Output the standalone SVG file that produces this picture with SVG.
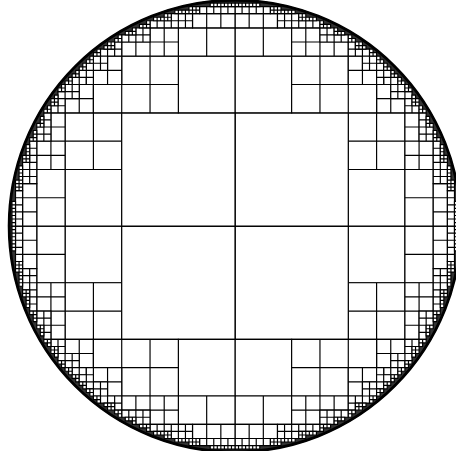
<svg xmlns="http://www.w3.org/2000/svg" width="456" height="451" viewBox="0 0 456 451">
<defs>
<pattern id="g128" patternUnits="userSpaceOnUse" width="0.5" height="0.5"><path d="M0 0H0.5M0 0.5H0.5M0 0V0.5M0.5 0V0.5" fill="none" stroke="#000" stroke-width="0.3"/></pattern>
<g id="oct" fill="#fff" stroke="#000" stroke-width="0.33">
<path id="l2" d="M0 0h32v32h-32z"/>
<path id="l4" d="M32 0h16v16h-16z"/>
<path id="l8" d="M48 0h8v8h-8zM48 8h8v8h-8zM32 16h8v8h-8zM40 16h8v8h-8zM32 24h8v8h-8zM40 24h8v8h-8zM32 32h8v8h-8z"/>
<path id="l16" d="M56 0h4v4h-4zM56 4h4v4h-4zM56 8h4v4h-4zM48 16h4v4h-4zM52 16h4v4h-4zM48 20h4v4h-4zM52 20h4v4h-4zM48 24h4v4h-4zM48 28h4v4h-4zM40 32h4v4h-4zM44 32h4v4h-4zM40 36h4v4h-4z"/>
<path id="l32" d="M60 0h2v2h-2zM60 2h2v2h-2zM60 4h2v2h-2zM60 6h2v2h-2zM60 8h2v2h-2zM56 12h2v2h-2zM58 12h2v2h-2zM56 14h2v2h-2zM58 14h2v2h-2zM56 16h2v2h-2zM58 16h2v2h-2zM56 18h2v2h-2zM56 20h2v2h-2zM56 22h2v2h-2zM52 24h2v2h-2zM54 24h2v2h-2zM52 26h2v2h-2zM54 26h2v2h-2zM52 28h2v2h-2zM52 30h2v2h-2zM48 32h2v2h-2zM50 32h2v2h-2zM48 34h2v2h-2zM44 36h2v2h-2zM46 36h2v2h-2zM48 36h2v2h-2zM44 38h2v2h-2zM46 38h2v2h-2zM40 40h2v2h-2zM42 40h2v2h-2zM44 40h2v2h-2zM42 42h2v2h-2z"/>
<path id="l64" d="M62 0h1v1h-1zM62 1h1v1h-1zM62 2h1v1h-1zM62 3h1v1h-1zM62 4h1v1h-1zM62 5h1v1h-1zM62 6h1v1h-1zM60 10h1v1h-1zM61 10h1v1h-1zM60 11h1v1h-1zM61 11h1v1h-1zM60 12h1v1h-1zM61 12h1v1h-1zM60 13h1v1h-1zM60 14h1v1h-1zM60 15h1v1h-1zM60 16h1v1h-1zM58 18h1v1h-1zM59 18h1v1h-1zM58 19h1v1h-1zM59 19h1v1h-1zM58 20h1v1h-1zM58 21h1v1h-1zM58 22h1v1h-1zM56 24h1v1h-1zM57 24h1v1h-1zM56 25h1v1h-1zM56 26h1v1h-1zM54 28h1v1h-1zM55 28h1v1h-1zM54 29h1v1h-1zM54 30h1v1h-1zM52 32h1v1h-1zM53 32h1v1h-1zM52 33h1v1h-1zM50 34h1v1h-1zM51 34h1v1h-1zM50 35h1v1h-1zM51 35h1v1h-1zM50 36h1v1h-1zM48 38h1v1h-1zM49 38h1v1h-1zM48 39h1v1h-1zM46 40h1v1h-1zM47 40h1v1h-1zM46 41h1v1h-1zM44 42h1v1h-1zM45 42h1v1h-1zM44 43h1v1h-1z"/>
</g>
</defs>
<rect width="456" height="451" fill="#fff"/>
<g transform="translate(235,226.1) scale(3.54)">
<path d="M-64 0a64 64 0 1 0 128 0a64 64 0 1 0-128 0ZM-60 0a60 60 0 1 0 120 0a60 60 0 1 0-120 0Z" fill="url(#g128)" fill-rule="evenodd"/>
<circle r="63.7" fill="none" stroke="#000" stroke-width="0.6"/>
<g id="cells">
<use href="#oct"/>
<use href="#oct" transform="matrix(0,1,1,0,0,0)"/>
<use href="#oct" transform="scale(-1,1)"/>
<use href="#oct" transform="scale(-1,1) matrix(0,1,1,0,0,0)"/>
<use href="#oct" transform="scale(1,-1)"/>
<use href="#oct" transform="scale(1,-1) matrix(0,1,1,0,0,0)"/>
<use href="#oct" transform="scale(-1,-1)"/>
<use href="#oct" transform="scale(-1,-1) matrix(0,1,1,0,0,0)"/>
</g>
<circle r="64" fill="none" stroke="#000" stroke-width="0.4"/>
</g>
</svg>
